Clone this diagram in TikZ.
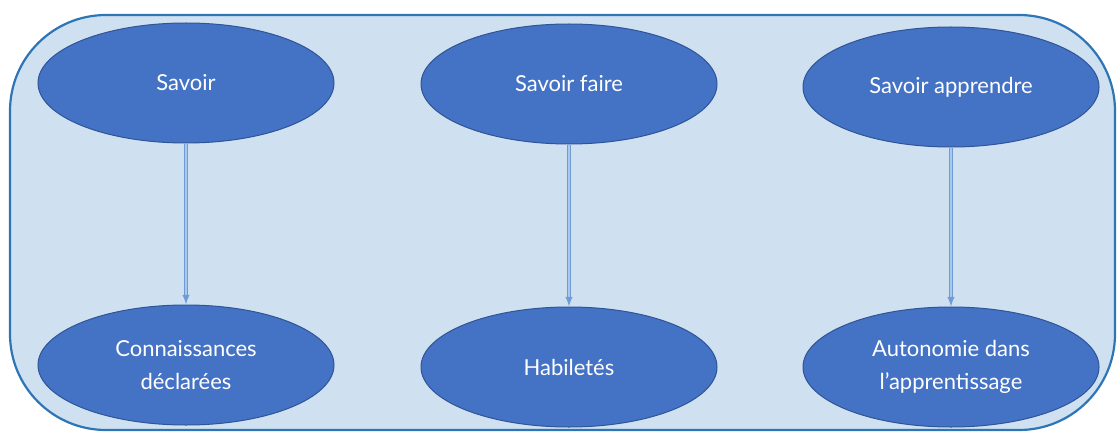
\documentclass[tikz,border=0pt]{standalone}
\usepackage{fontspec}
\setmainfont{Lato}
\usepackage{tikz}
\usetikzlibrary{arrows,shapes.geometric}

\definecolor{framefill}{HTML}{CFE0F1}
\definecolor{frameline}{HTML}{2E75B6}
\definecolor{ovalfill}{HTML}{4472C4}
\definecolor{ovalline}{HTML}{2F5597}
\definecolor{arrowline}{HTML}{6E9BD6}
\definecolor{arrowinner}{HTML}{A9C8EC}

\tikzset{
  oval/.style={ellipse, fill=ovalfill, draw=ovalline, line width=0.5pt,
    minimum width=148pt, minimum height=60pt, inner sep=0pt,
    text=white, align=center, font=\fontsize{11}{16.5}\selectfont},
  link/.style={draw=arrowline, line width=0.45pt, double=arrowinner,
    double distance=0.7pt, -latex}
}

\begin{document}
\begin{tikzpicture}[x=0.5pt, y=-0.5pt]
\useasboundingbox (0,0) rectangle (1118,433);

% Drawing frame
\draw[fill=framefill, draw=frameline, line width=1.1pt, rounded corners=48pt] (10,15) rectangle (1115,430);

% Drawing top ellipses
\node[oval] (savoir) at (186,83) {Savoir};
\node[oval] (savoirfaire) at (569,84) {Savoir faire};
\node[oval] (savoirapprendre) at (951,87) {Savoir apprendre};

% Drawing bottom ellipses
\node[oval] (connaissances) at (186,365) {Connaissances\\déclarées};
\node[oval] (habiletes) at (569,367) {Habiletés};
\node[oval] (autonomie) at (951,367) {Autonomie dans\\l'apprentissage};

% Drawing arrows
\draw[link] (savoir) -- (connaissances);
\draw[link] (savoirfaire) -- (habiletes);
\draw[link] (savoirapprendre) -- (autonomie);
\end{tikzpicture}
\end{document}
